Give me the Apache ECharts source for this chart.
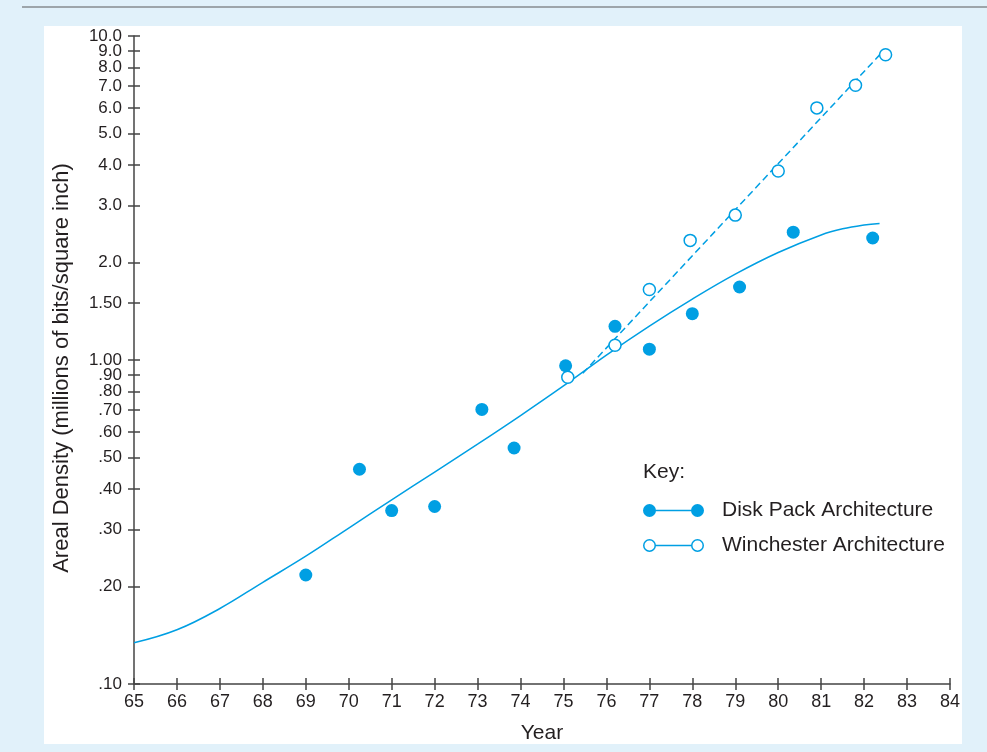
<!DOCTYPE html>
<html>
<head>
<meta charset="utf-8">
<script src="https://cdn.jsdelivr.net/npm/echarts@6/dist/echarts.min.js"></script>
<style>
html,body{margin:0;padding:0;background:#e1f1fa;}
#chart{width:987px;height:752px;}
</style>
</head>
<body>
<div id="chart"></div>
<script>
// ---- data ----
const diskYears   = [69.0, 70.25, 71.0, 72.0, 73.1, 73.85, 75.05, 76.2, 77.0, 78.0, 79.1, 80.35, 82.2];
const diskDensity = [0.217, 0.46, 0.343, 0.353, 0.704, 0.535, 0.96, 1.27, 1.08, 1.39, 1.68, 2.48, 2.38];
const winYears    = [75.1, 76.2, 77.0, 77.95, 79.0, 80.0, 80.9, 81.8, 82.5];
const winDensity  = [0.885, 1.11, 1.65, 2.34, 2.80, 3.83, 6.0, 7.05, 8.75];
const diskTrendYears = [65, 66, 67, 68, 69, 70, 71, 72, 73, 74, 75, 76, 77, 78, 79, 80, 81, 81.5, 82, 82.36];
const diskTrend      = [0.134, 0.147, 0.171, 0.206, 0.248, 0.303, 0.370, 0.451, 0.550, 0.674, 0.832, 1.036, 1.273, 1.542, 1.841, 2.147, 2.432, 2.54, 2.61, 2.64];
const winTrendYears = [75.45, 82.45];
const winTrend      = [0.91, 9.0];
const yTickValues = [0.1, 0.2, 0.3, 0.4, 0.5, 0.6, 0.7, 0.8, 0.9, 1.0, 1.5, 2, 3, 4, 5, 6, 7, 8, 9, 10];
const yTickLabels = ['.10', '.20', '.30', '.40', '.50', '.60', '.70', '.80', '.90', '1.00', '1.50', '2.0', '3.0', '4.0', '5.0', '6.0', '7.0', '8.0', '9.0', '10.0'];
const xMin = 65, xMax = 84;
const yMin = 0.1, yMax = 10;
const seriesNames = ['Disk Pack Architecture', 'Winchester Architecture'];
const keyTitle = 'Key:';
const xName = 'Year';
const yName = 'Areal Density (millions of bits/square inch)';

const BLUE = '#009fe3';
const TXT = '#231f20';
const AX = '#444444';

function zip(a, b) { return a.map((v, i) => [v, b[i]]); }
function yLabel(v) {
  let best = 0, d = Infinity;
  yTickValues.forEach((t, i) => { const dd = Math.abs(Math.log10(t) - Math.log10(v)); if (dd < d) { d = dd; best = i; } });
  return yTickLabels[best];
}
// labels split over two overlaid axes so the crowded top labels are not auto-hidden
const yLabelsEven = yTickValues.filter((_, i) => i % 2 === 0);
const yLabelsOdd  = yTickValues.filter((_, i) => i % 2 === 1);

const filledIcon = 'path://M0,6.5A6.5,6.5 0 1,1 13,6.5A6.5,6.5 0 1,1 0,6.5Z M12,5.75L49,5.75L49,7.25L12,7.25Z M48,6.5A6.5,6.5 0 1,1 61,6.5A6.5,6.5 0 1,1 48,6.5Z';
const hollowIcon = 'path://M0,6.5A6.5,6.5 0 1,1 13,6.5A6.5,6.5 0 1,1 0,6.5Z M1.5,6.5A5,5 0 1,0 11.5,6.5A5,5 0 1,0 1.5,6.5Z M12.5,5.75L48.5,5.75L48.5,7.25L12.5,7.25Z M48,6.5A6.5,6.5 0 1,1 61,6.5A6.5,6.5 0 1,1 48,6.5Z M49.5,6.5A5,5 0 1,0 59.5,6.5A5,5 0 1,0 49.5,6.5Z';

const chart = echarts.init(document.getElementById('chart'), null, { renderer: 'canvas' });
// tiny epsilon on max so the 10.0 tick survives floating-point round-off in the log scale
const yBase = {
  type: 'log', logBase: 10, min: yMin, max: yMax * 1.00001, position: 'left',
  splitLine: { show: false }, minorTick: { show: false }
};
const xBase = {
  type: 'value', min: xMin, max: xMax, interval: 1, position: 'bottom',
  splitLine: { show: false }
};
const yLabelStyle = { show: true, fontSize: 17, color: TXT, margin: 12, formatter: v => yLabel(v),
                      showMinLabel: true, showMaxLabel: true, hideOverlap: false };
chart.setOption({
  animation: false,
  backgroundColor: '#e1f1fa',
  textStyle: { fontFamily: 'Liberation Sans, Arial, sans-serif' },
  graphic: [
    { type: 'rect', z: -10, silent: true, shape: { x: 44, y: 26, width: 918, height: 718 }, style: { fill: '#ffffff' } },
    { type: 'line', z: -10, silent: true, shape: { x1: 22, y1: 7, x2: 987, y2: 7 }, style: { stroke: '#5a5a5a', lineWidth: 1.2 } }
  ],
  title: {
    text: keyTitle, left: 643, top: 462, padding: 0,
    textStyle: { fontSize: 21, fontWeight: 'normal', color: TXT, fontFamily: 'Liberation Sans, Arial, sans-serif' }
  },
  legend: {
    orient: 'vertical', left: 643, top: 500, padding: 0,
    itemWidth: 61, itemHeight: 13, itemGap: 14,
    textStyle: { fontSize: 21, color: TXT, padding: [0, 0, 0, 13], fontFamily: 'Liberation Sans, Arial, sans-serif' },
    data: [
      { name: seriesNames[0], icon: filledIcon, itemStyle: { color: BLUE, borderWidth: 0 } },
      { name: seriesNames[1], icon: hollowIcon, itemStyle: { color: BLUE, borderWidth: 0 } }
    ]
  },
  grid: { left: 134, right: 37, top: 36, bottom: 68, containLabel: false },
  xAxis: [
    Object.assign({}, xBase, {
      name: xName, nameLocation: 'middle', nameGap: 39,
      nameTextStyle: { fontSize: 21, color: TXT },
      axisLine: { show: true, lineStyle: { color: AX, width: 1.5 } },
      axisTick: { show: true, inside: false, length: 6, lineStyle: { color: AX, width: 1.5 } },
      axisLabel: { show: true, fontSize: 18, color: TXT, margin: 9, showMinLabel: true, showMaxLabel: true, hideOverlap: false }
    }),
    Object.assign({}, xBase, {
      axisLine: { show: false },
      axisTick: { show: true, inside: true, length: 6, lineStyle: { color: AX, width: 1.5 } },
      axisLabel: { show: false }
    })
  ],
  yAxis: [
    Object.assign({}, yBase, {
      name: yName, nameLocation: 'middle', nameGap: 61,
      nameTextStyle: { fontSize: 22, color: TXT, padding: [0, 16, 0, 0] },
      axisLine: { show: true, lineStyle: { color: AX, width: 1.5 } },
      axisTick: { show: true, inside: false, length: 6, customValues: yTickValues, lineStyle: { color: AX, width: 1.5 } },
      axisLabel: Object.assign({}, yLabelStyle, { customValues: yLabelsEven })
    }),
    Object.assign({}, yBase, {
      axisLine: { show: false },
      axisTick: { show: true, inside: true, length: 6, customValues: yTickValues, lineStyle: { color: AX, width: 1.5 } },
      axisLabel: Object.assign({}, yLabelStyle, { customValues: yLabelsOdd })
    })
  ],
  series: [
    {
      name: seriesNames[0], type: 'scatter', xAxisIndex: 0, yAxisIndex: 0, z: 4,
      symbol: 'circle', symbolSize: 13,
      itemStyle: { color: BLUE, opacity: 1 },
      data: zip(diskYears, diskDensity)
    },
    {
      name: seriesNames[1], type: 'scatter', xAxisIndex: 0, yAxisIndex: 0, z: 4,
      symbol: 'circle', symbolSize: 12,
      itemStyle: { color: '#ffffff', borderColor: BLUE, borderWidth: 1.5, opacity: 1 },
      data: zip(winYears, winDensity)
    },
    {
      name: seriesNames[0], type: 'line', xAxisIndex: 0, yAxisIndex: 0, z: 2,
      smooth: 0.4, showSymbol: false, symbol: 'none',
      lineStyle: { color: BLUE, width: 1.5 },
      itemStyle: { color: BLUE },
      data: zip(diskTrendYears, diskTrend)
    },
    {
      name: seriesNames[1], type: 'line', xAxisIndex: 0, yAxisIndex: 0, z: 2,
      showSymbol: false, symbol: 'none',
      lineStyle: { color: BLUE, width: 1.5, type: [7, 4] },
      itemStyle: { color: BLUE },
      data: zip(winTrendYears, winTrend)
    }
  ]
});
</script>
</body>
</html>
